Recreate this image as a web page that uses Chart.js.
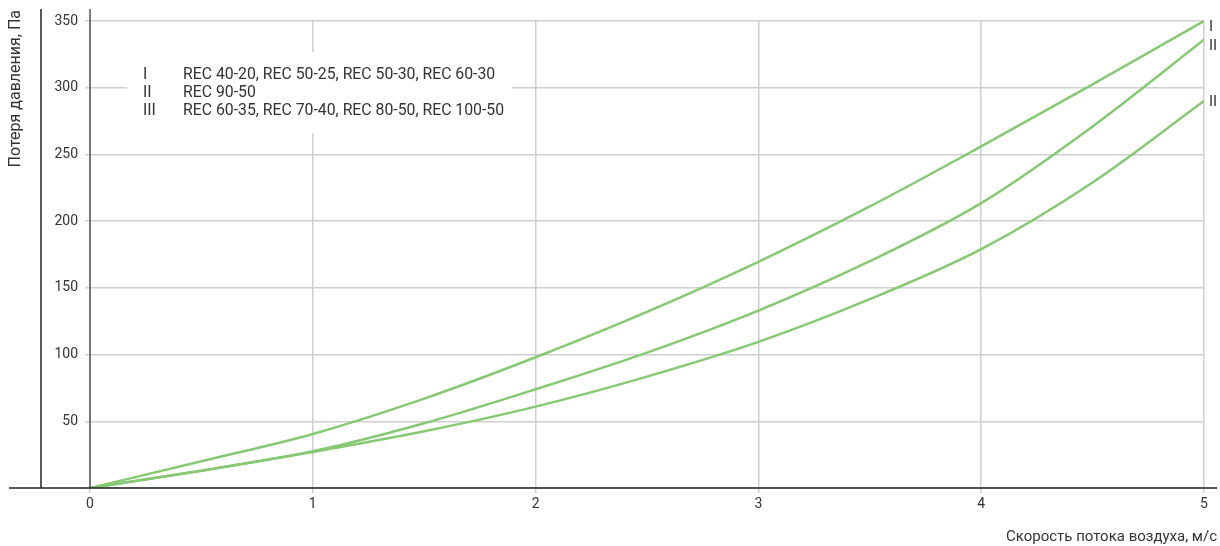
<!DOCTYPE html>
<html>
<head>
<meta charset="utf-8">
<script src="https://cdn.jsdelivr.net/npm/chart.js@4"></script>
<style>
  html, body { margin: 0; padding: 0; background: #fff; }
  #wrap { width: 1220px; height: 546px; position: relative; }
</style>
</head>
<body>
<div id="wrap"><canvas id="lossChart"></canvas></div>
<script>
// Скорость потока воздуха, м/с
const speeds = [0, 0.5, 1, 1.5, 2, 2.5, 3, 3.5, 4, 4.5, 5];
// Потеря давления, Па
const curveI = [0, 20, 40.5, 67, 98, 132, 169.5, 211, 256, 302.5, 350];
const curveII = [0, 13, 27.5, 48.5, 74, 101.5, 133, 170, 213.5, 271, 336];
const curveIII = [0, 13, 27, 42.5, 61, 83.5, 109.5, 141.5, 179, 229, 290];
const curveNames = ['I', 'II', 'III'];
const curveModels = [
    'REC 40-20, REC 50-25, REC 50-30, REC 60-30',
    'REC 90-50',
    'REC 60-35, REC 70-40, REC 80-50, REC 100-50'
];
const endLabels = ['I', 'II', 'II'];
const yTicks = [50, 100, 150, 200, 250, 300, 350];

const green = '#86c873';
const textColor = '#333';
const fontFamily = 'Roboto, "DejaVu Sans", sans-serif';

function toPoints(ys) {
    return speeds.map(function(x, i) { return { x: x, y: ys[i] }; });
}

// Дополнительные линии, рамка легенды и подписи
const decorPlugin = {
    id: 'decor',
    beforeDatasetsDraw: function(chart) {
        const ctx = chart.ctx;
        ctx.save();
        // белая подложка легенды
        ctx.fillStyle = '#fff';
        ctx.fillRect(127, 52, 385, 81);
        ctx.fillStyle = textColor;
        ctx.font = '15.8px ' + fontFamily;
        ctx.textBaseline = 'middle';
        ctx.textAlign = 'left';
        const rows = [75, 93, 111];
        for (let i = 0; i < curveNames.length; i++) {
            ctx.fillText(curveNames[i], 143, rows[i]);
            ctx.fillText(curveModels[i], 183, rows[i]);
        }
        ctx.restore();
    },
    afterDatasetsDraw: function(chart) {
        const ctx = chart.ctx;
        const xs = chart.scales.x;
        const ys = chart.scales.y;
        const x0 = xs.getPixelForValue(0);
        const y0 = ys.getPixelForValue(0);
        ctx.save();
        // ось Y
        ctx.strokeStyle = '#555';
        ctx.lineWidth = 1.5;
        ctx.beginPath();
        ctx.moveTo(x0, 9);
        ctx.lineTo(x0, y0);
        ctx.stroke();
        // внешняя линия слева
        ctx.strokeStyle = '#222';
        ctx.beginPath();
        ctx.moveTo(41, 9);
        ctx.lineTo(41, y0);
        ctx.stroke();
        // ось X
        ctx.beginPath();
        ctx.moveTo(9, y0);
        ctx.lineTo(1217, y0);
        ctx.stroke();

        // подписи кривых справа
        ctx.fillStyle = textColor;
        ctx.font = '15px ' + fontFamily;
        ctx.textAlign = 'left';
        ctx.textBaseline = 'middle';
        const ends = [curveI, curveII, curveIII];
        const offsets = [6, 7, 1];
        for (let i = 0; i < ends.length; i++) {
            const last = ends[i][ends[i].length - 1];
            ctx.fillText(endLabels[i], 1209, ys.getPixelForValue(last) + offsets[i]);
        }

        // подписи осей
        ctx.font = '15px ' + fontFamily;
        ctx.textAlign = 'right';
        ctx.textBaseline = 'middle';
        ctx.fillText('Скорость потока воздуха, м/с', 1217, 537);
        ctx.font = '16px ' + fontFamily;
        ctx.translate(16, 10);
        ctx.rotate(-Math.PI / 2);
        ctx.textAlign = 'right';
        ctx.fillText('Потеря давления, Па', 0, 0);
        ctx.restore();
    }
};

document.addEventListener('DOMContentLoaded', function() {
    const ctx = document.getElementById('lossChart');
    const series = [curveI, curveII, curveIII];
    new Chart(ctx, {
        type: 'line',
        data: {
            datasets: series.map(function(ys, i) {
                return {
                    label: curveNames[i],
                    data: toPoints(ys),
                    borderColor: green,
                    borderWidth: 2.5,
                    pointRadius: 0,
                    fill: false,
                    cubicInterpolationMode: 'monotone'
                };
            })
        },
        options: {
            responsive: true,
            maintainAspectRatio: false,
            animation: false,
            layout: {
                padding: { left: 0, right: 16, top: 21, bottom: 0 }
            },
            plugins: {
                legend: { display: false },
                tooltip: { enabled: false }
            },
            scales: {
                x: {
                    type: 'linear',
                    min: 0,
                    max: 5,
                    afterFit: function(scale) { scale.height = 58; },
                    ticks: {
                        stepSize: 1,
                        padding: 3,
                        color: textColor,
                        font: { family: fontFamily, size: 14 }
                    },
                    grid: {
                        color: '#cfcfcf',
                        lineWidth: 1.5,
                        tickLength: 5
                    },
                    border: { display: false }
                },
                y: {
                    min: 0,
                    max: 350,
                    afterFit: function(scale) { scale.width = 90; },
                    afterBuildTicks: function(scale) {
                        scale.ticks = [0].concat(yTicks).map(function(v) { return { value: v }; });
                    },
                    ticks: {
                        padding: 7,
                        color: textColor,
                        font: { family: fontFamily, size: 14 },
                        callback: function(value) { return value === 0 ? '' : value; }
                    },
                    grid: {
                        color: '#cfcfcf',
                        lineWidth: 1.5,
                        tickLength: 5
                    },
                    border: { display: false }
                }
            }
        },
        plugins: [decorPlugin]
    });
});
</script>
</body>
</html>
